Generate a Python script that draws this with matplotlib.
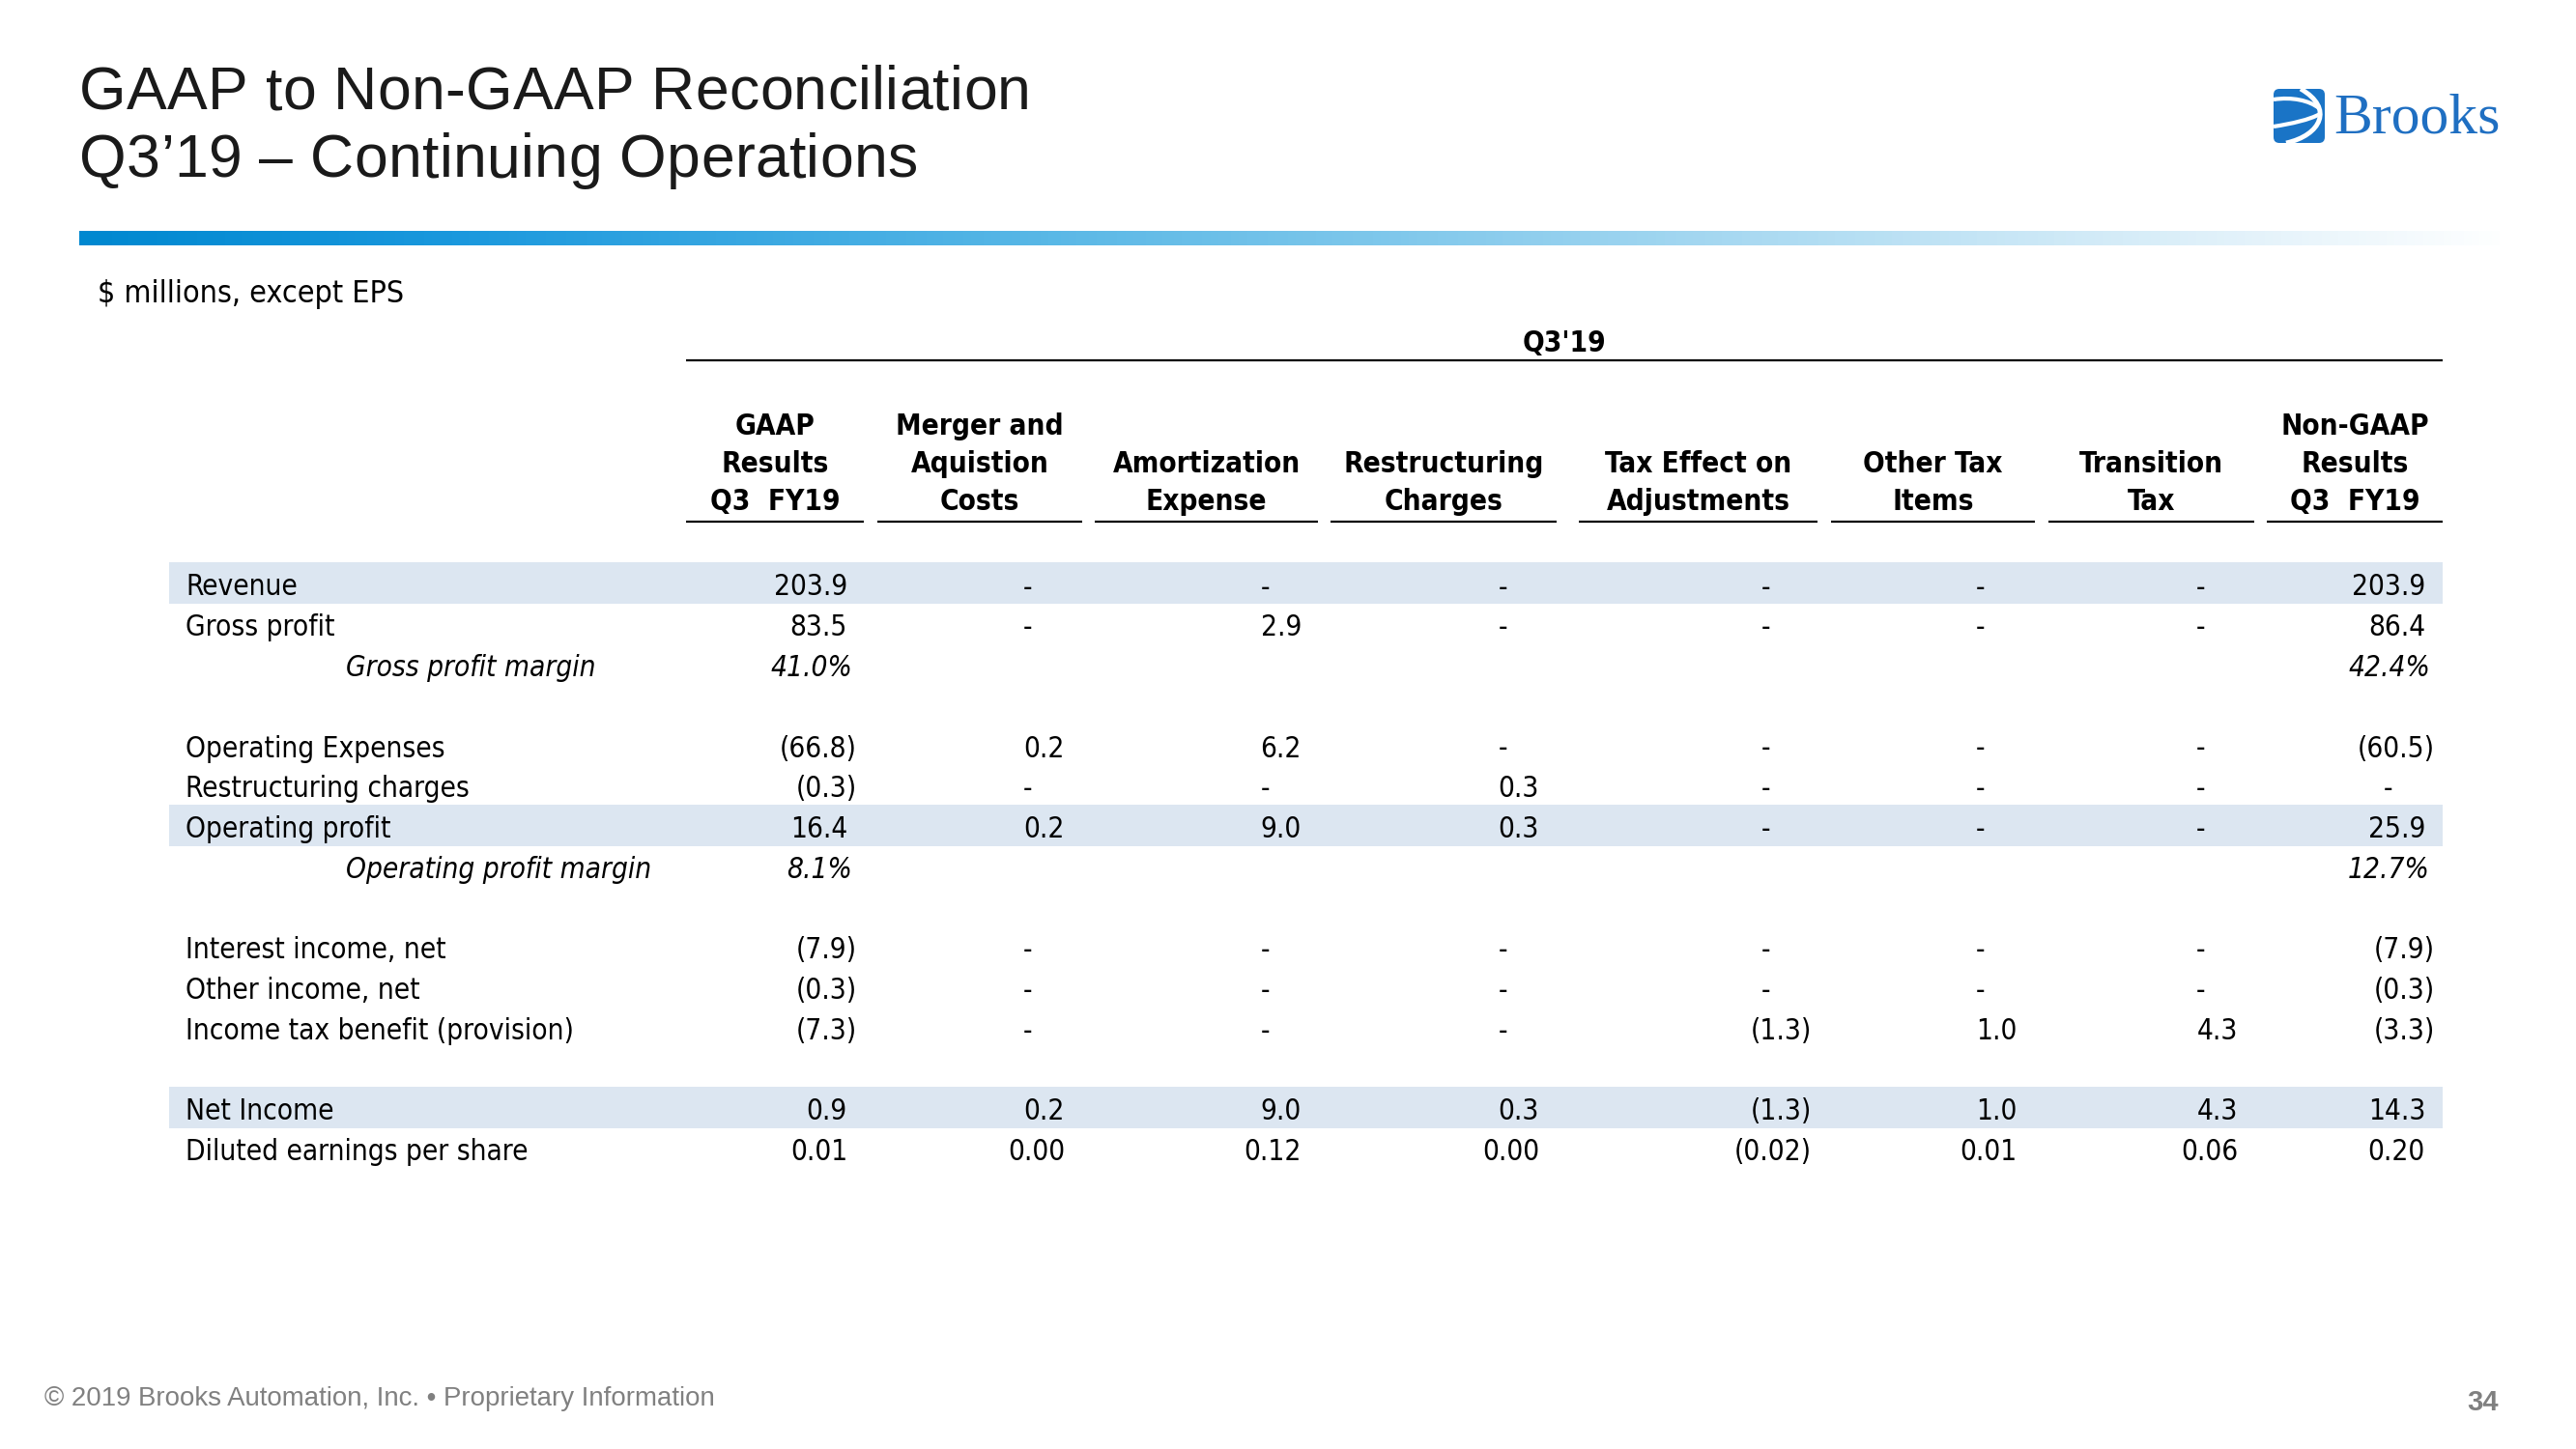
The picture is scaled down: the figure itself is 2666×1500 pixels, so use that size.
import os
import numpy as np
import matplotlib
matplotlib.use("Agg")
import matplotlib.pyplot as plt
from matplotlib import font_manager as fm
from matplotlib.ft2font import FT2Font
from matplotlib.colors import LinearSegmentedColormap
from matplotlib.patches import FancyBboxPatch, PathPatch
from matplotlib.path import Path

nan = np.nan

# ---- data ----
ROW_LABELS = ["Revenue", "Gross profit", "Gross profit margin",
              "Operating Expenses", "Restructuring charges", "Operating profit",
              "Operating profit margin", "Interest income, net", "Other income, net",
              "Income tax benefit (provision)", "Net Income", "Diluted earnings per share"]
ROW_KIND = ["num", "num", "pct", "num", "num", "num", "pct", "num", "num", "num", "num", "eps"]
SHADED_ROWS = ["Revenue", "Operating profit", "Net Income"]

COL_HEADERS = [["GAAP", "Results", "Q3  FY19"],
               ["Merger and", "Aquistion", "Costs"],
               ["", "Amortization", "Expense"],
               ["", "Restructuring", "Charges"],
               ["", "Tax Effect on", "Adjustments"],
               ["", "Other Tax", "Items"],
               ["", "Transition", "Tax"],
               ["Non-GAAP", "Results", "Q3  FY19"]]
PERIOD = "Q3'19"

gaap       = [203.9, 83.5, 41.0, -66.8, -0.3, 16.4, 8.1, -7.9, -0.3, -7.3, 0.9, 0.01]
merger     = [0, 0, nan, 0.2, 0, 0.2, nan, 0, 0, 0, 0.2, 0.00]
amort      = [0, 2.9, nan, 6.2, 0, 9.0, nan, 0, 0, 0, 9.0, 0.12]
restruct   = [0, 0, nan, 0, 0.3, 0.3, nan, 0, 0, 0, 0.3, 0.00]
tax_effect = [0, 0, nan, 0, 0, 0, nan, 0, 0, -1.3, -1.3, -0.02]
other_tax  = [0, 0, nan, 0, 0, 0, nan, 0, 0, 1.0, 1.0, 0.01]
transition = [0, 0, nan, 0, 0, 0, nan, 0, 0, 4.3, 4.3, 0.06]
non_gaap   = [203.9, 86.4, 42.4, -60.5, 0, 25.9, 12.7, -7.9, -0.3, -3.3, 14.3, 0.20]
COLUMNS = [gaap, merger, amort, restruct, tax_effect, other_tax, transition, non_gaap]

TITLE_1 = "GAAP to Non-GAAP Reconciliation"
TITLE_2 = "Q3\u201919 \u2013 Continuing Operations"
UNITS = "$ millions, except EPS"
FOOTER = "\u00a9 2019 Brooks Automation, Inc. \u2022 Proprietary Information"
PAGE = "34"

# ---- layout (pixels) ----
W, H = 2666, 1500
ROW_SLOTS = [0, 1, 2, 4, 5, 6, 7, 9, 10, 11, 13, 14]
ROW0, PITCH = 603.5, 41.75
COL_SPANS = [(710, 894), (908, 1120), (1133, 1364), (1377, 1611),
             (1634, 1881), (1895, 2106), (2120, 2333), (2346, 2528)]
COL_RIGHT = [877, 1102, 1347, 1593, 1865, 2088, 2316, 2510]
PAREN_W = 10
DASH_OFF = 38


def font_file(basenames, family, weight="normal", style="normal"):
    for f in fm.fontManager.ttflist:
        if os.path.basename(f.fname) in basenames:
            return f.fname, True
    return fm.findfont(fm.FontProperties(family=family, weight=weight, style=style)), False


body_f, cond = font_file(["DejaVuSansCondensed.ttf"], "DejaVu Sans")
bold_f, _ = font_file(["DejaVuSansCondensed-Bold.ttf"], "DejaVu Sans", weight="bold")
ital_f, _ = font_file(["DejaVuSansCondensed-Oblique.ttf"], "DejaVu Sans", style="italic")
title_f, narrow = font_file(["LiberationSansNarrow-Regular.ttf"], "Liberation Sans")
page_f, _ = font_file(["LiberationSansNarrow-Bold.ttf"], "Liberation Sans", weight="bold")
arial_f, _ = font_file(["LiberationSans-Regular.ttf"], "Liberation Sans")
serif_f, _ = font_file(["LiberationSerif-Regular.ttf"], "Liberation Serif")

BODY = 21.3 if cond else 19.2


def fp(fname, size):
    return fm.FontProperties(fname=fname, size=size)


def advances(s, fname, size):
    ft = FT2Font(fname)
    ft.set_size(size, 100)
    return [ft.load_char(ord(c)).linearHoriAdvance / 65536 for c in s]


def fit_size(s, fname, width):
    return width / sum(advances(s, fname, 10)) * 10


fig = plt.figure(figsize=(W / 100, H / 100), dpi=100)
ax = fig.add_axes([0, 0, 1, 1])
ax.set_xlim(0, W)
ax.set_ylim(H, 0)
ax.axis("off")


def tracked(x, y, s, fname, size, width, color):
    # spread letters out to the measured line width (title uses letter spacing)
    adv = advances(s, fname, size)
    gap = max(0.0, (width - sum(adv)) / (len(s) - 1))
    for c, a in zip(s, adv):
        ax.text(x, y, c, fontproperties=fp(fname, size), color=color, va="baseline", ha="left")
        x += a + gap


# title
tracked(82, 113, TITLE_1, title_f, 45, 985, "#1a1a1a")
tracked(82, 183, TITLE_2, title_f, 45, 868, "#1a1a1a")

# gradient rule
grad = LinearSegmentedColormap.from_list("rule", [(0, "#0088d0"), (0.15, "#1a98dd"), (0.40, "#5ab8e6"),
                                                  (0.56, "#85caec"), (0.84, "#d5ecf8"), (1, "#ffffff")])
ax.imshow(np.linspace(0, 1, 600)[None, :], cmap=grad, extent=(82, 2600, 254, 239), aspect="auto")

# logo
ax.add_patch(FancyBboxPatch((2353, 92), 53, 56, boxstyle="round,pad=0,rounding_size=6",
                            fc="#1a74c6", ec="none"))
ax.add_patch(PathPatch(Path([(2381, 92), (2416, 112), (2402, 140), (2366, 148)],
                            [Path.MOVETO, Path.CURVE4, Path.CURVE4, Path.CURVE4]),
                       fc="none", ec="white", lw=3.5))
ax.add_patch(PathPatch(Path([(2353, 103), (2372, 100), (2390, 104), (2400, 112)],
                            [Path.MOVETO, Path.CURVE4, Path.CURVE4, Path.CURVE4]),
                       fc="none", ec="white", lw=3))
ax.add_patch(PathPatch(Path([(2353, 131), (2372, 128), (2390, 124), (2401, 118)],
                            [Path.MOVETO, Path.CURVE4, Path.CURVE4, Path.CURVE4]),
                       fc="none", ec="white", lw=3))
ax.text(2415, 138, "Brooks", fontproperties=fp(serif_f, fit_size("Brooks", serif_f, 172)),
        color="#1f6fc2", va="baseline", ha="left")

# units note
ax.text(101, 313, UNITS, fontproperties=fp(body_f, BODY * 1.08), va="baseline", ha="left")

# headers
ax.text((COL_SPANS[0][0] + COL_SPANS[-1][1]) / 2, 364, PERIOD, fontproperties=fp(bold_f, BODY),
        va="baseline", ha="center")
ax.hlines(373, COL_SPANS[0][0], COL_SPANS[-1][1], color="black", lw=1.6)
for (x0, x1), lines in zip(COL_SPANS, COL_HEADERS):
    for k, line in enumerate(lines):
        ax.text((x0 + x1) / 2, 450 + 39 * k, line, fontproperties=fp(bold_f, BODY),
                va="baseline", ha="center")
    ax.hlines(540, x0, x1, color="black", lw=1.6)

# rows
for label, kind, slot, i in zip(ROW_LABELS, ROW_KIND, ROW_SLOTS, range(len(ROW_LABELS))):
    yc = ROW0 + PITCH * slot
    yb = yc + 13
    if label in SHADED_ROWS:
        ax.add_patch(plt.Rectangle((175, yc - 21.5), 2528 - 175, 43, fc="#dce6f1", ec="none", zorder=0))
    if kind == "pct":
        ax.text(358, yb, label, fontproperties=fp(ital_f, BODY), va="baseline", ha="left")
    else:
        ax.text(192, yb, label, fontproperties=fp(body_f, BODY), va="baseline", ha="left")
    for col, xr in zip(COLUMNS, COL_RIGHT):
        v = col[i]
        if np.isnan(v):
            continue
        if kind == "pct":
            ax.text(xr + 5, yb, f"{v:.1f}%", fontproperties=fp(ital_f, BODY), va="baseline", ha="right")
            continue
        if kind == "num" and v == 0:
            ax.text(xr - DASH_OFF, yb, "-", fontproperties=fp(body_f, BODY), va="baseline", ha="center")
            continue
        txt = f"{abs(v):.2f}" if kind == "eps" else f"{abs(v):.1f}"
        if v < 0:
            ax.text(xr + PAREN_W, yb, f"({txt})", fontproperties=fp(body_f, BODY), va="baseline", ha="right")
        else:
            ax.text(xr, yb, txt, fontproperties=fp(body_f, BODY), va="baseline", ha="right")

# footer
ax.text(46, 1455, FOOTER, fontproperties=fp(arial_f, fit_size(FOOTER, arial_f, 695)),
        color="#808080", va="baseline", ha="left")
ax.text(2586, 1460, PAGE, fontproperties=fp(page_f, 24 if narrow else 21),
        color="#808080", va="baseline", ha="right")

fig.savefig("out.png", dpi=100, facecolor="white")
